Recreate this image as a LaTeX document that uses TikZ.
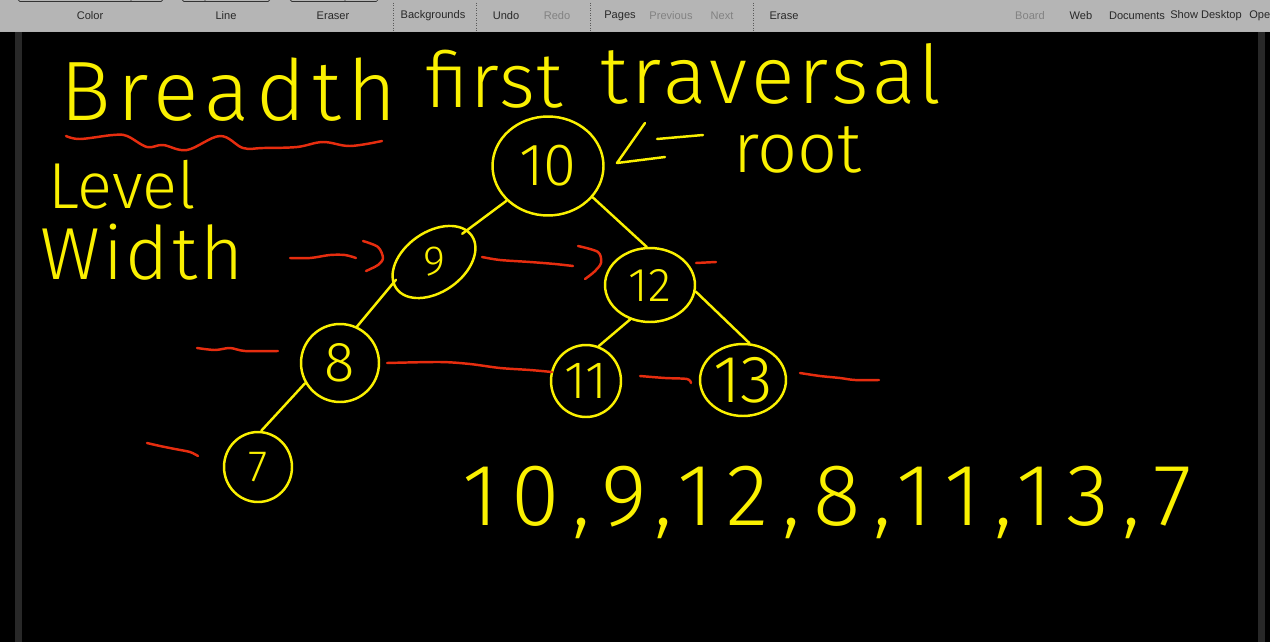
\documentclass[tikz,border=0pt]{standalone}
\usepackage{fontspec}
\usetikzlibrary{shapes.geometric,calc}
\newfontfamily\uifont{Liberation Sans}
\newfontfamily\penfont{Fira Sans Light}
\definecolor{barbg}{RGB}{181,181,181}
\definecolor{uitext}{RGB}{40,40,40}
\definecolor{uidim}{RGB}{130,130,130}
\definecolor{rail}{RGB}{40,40,40}
\definecolor{penyellow}{RGB}{250,240,0}
\definecolor{penred}{RGB}{230,45,15}
% pen text: size in pt, tracking in percent of the em
\newcommand{\hw}[2]{\penfont\addfontfeatures{LetterSpace=#2}\fontsize{#1}{#1}\selectfont}

\begin{document}
\begin{tikzpicture}[x=0.02cm,y=-0.02cm,
  btn/.style={font=\uifont\fontsize{6.3}{7}\selectfont, text=uitext, inner sep=0pt},
  btnoff/.style={btn, text=uidim},
  pen/.style={draw=penyellow, line width=1.4pt, line cap=round, line join=round},
  redpen/.style={draw=penred, line width=1.4pt, line cap=round, line join=round},
  ink/.style={text=penyellow, inner sep=0pt, text depth=0pt, anchor=base west},
  key/.style={ellipse, draw=penyellow, line width=1.4pt, text=penyellow, inner sep=0pt}]
  \useasboundingbox (0,0) rectangle (1270,642);

  % Canvas and toolbar
  \fill[black] (0,0) rectangle (1270,642);
  \fill[rail] (15,32) rectangle (22,642);
  \fill[rail] (1258,32) rectangle (1265,642);
  \fill[barbg] (0,0) rectangle (1270,31);
  \draw[gray!60] (0,31.5) -- (1270,31.5);
  \draw[gray!40!black,rounded corners=1pt] (18,-6) rectangle (163,1.5) (131,-6) -- (131,1.5);
  \draw[gray!40!black,rounded corners=1pt] (182,-6) rectangle (270,1.5) (205,-6) -- (205,1.5);
  \draw[gray!40!black,rounded corners=1pt] (290,-6) rectangle (378,1.5) (345,-6) -- (345,1.5);
  \foreach \sx in {393,476,590,753}
    \draw[gray!70!black,densely dotted] (\sx,3) -- (\sx,31);

  \node[btn] (bColor) at (90,16) {Color};
  \node[btn] (bLine) at (226,16) {Line};
  \node[btn] (bEraser) at (333,16) {Eraser};
  \node[btn] (bBack) at (433,16) {Backgrounds};
  \node[btn] (bUndo) at (506,16) {Undo};
  \node[btnoff] (bRedo) at (557,16) {Redo};
  \node[btn] (bPages) at (620,16) {Pages};
  \node[btnoff] (bPrev) at (671,16) {Previous};
  \node[btnoff] (bNext) at (722,16) {Next};
  \node[btn] (bErase) at (784,16) {Erase};
  \node[btnoff] (bBoard) at (1030,16) {Board};
  \node[btn] (bWeb) at (1081,16) {Web};
  \node[btn] (bDocs) at (1137,16) {Documents};
  \node[btn] (bDesk) at (1206,16) {Show Desktop};
  \node[btn,anchor=west] (bOpen) at (1249,16) {Open};

  % Title and notes
  \node[ink,font={\hw{48}{8}}] (tBreadth) at (60,120) {Breadth};
  \node[ink,font={\hw{44}{2}}] (tFirst) at (425,108) {first};
  \node[ink,font={\hw{46}{5}}] (tTrav) at (600,104) {traversal};
  \draw[redpen] plot[smooth,tension=0.6] coordinates {(66,136) (80,139) (113,135) (127,136) (147,147) (163,145) (187,150) (220,136) (243,148) (263,148) (297,147) (323,142) (350,146) (382,141)};
  \node[ink,font={\hw{37}{0}}] (tLevel) at (48,208) {Level};
  \node[ink,text height=30pt,font={\hw{42}{4}}] (tWidth) at (40,279) {Width};
  \node[ink,font={\hw{40}{0}}] (tRoot) at (733,172) {root};

  % Tree
  \node[key,minimum width=2.22cm,minimum height=1.98cm,font={\hw{34}{0}}] (n10) at (548,166) {10};
  \node[key,draw=none,minimum width=1.68cm,minimum height=1.44cm,font={\hw{24}{0}}] (n9) at (434,262) {9};
  \draw[pen,rotate around={35:(n9.center)}] (n9.center) ellipse (46 and 30);
  \node[key,minimum width=1.80cm,minimum height=1.48cm,font={\hw{27}{0}}] (n12) at (650,285) {12};
  \node[key,minimum width=1.56cm,minimum height=1.56cm,font={\hw{32}{0}}] (n8) at (340,363) {8};
  \node[key,minimum width=1.40cm,minimum height=1.44cm,font={\hw{30}{0}}] (n11) at (586,381) {11};
  \node[key,minimum width=1.72cm,minimum height=1.44cm,font={\hw{38}{0}}] (n13) at (743,380) {13};
  \node[key,minimum width=1.36cm,minimum height=1.40cm,font={\hw{25}{0}}] (n7) at (258,467) {7};

  \draw[pen] (n10.-140) -- (n9.45);
  \draw[pen] (n10.-35) -- (n12.95);
  \draw[pen] (n9.-155) -- (n8.65);
  \draw[pen] (n12.-120) -- (n11.70);
  \draw[pen] (n12.-8) -- (n13.80);
  \draw[pen] (n8.-150) -- (n7.85);

  % root pointer
  \draw[pen] (645,123) -- (617,163) -- (665,157);
  \draw[pen] (657,139) -- (703,135);

  % Level width marks
  \draw[redpen] plot[smooth] coordinates {(290,258) (310,258) (330,255) (345,255) (356,258)};
  \draw[redpen] plot[smooth] coordinates {(363,241) (378,247) (383,258) (378,265) (366,271)};
  \draw[redpen] plot[smooth] coordinates {(482,257) (500,260) (530,262) (555,264) (573,266)};
  \draw[redpen] plot[smooth] coordinates {(578,246) (598,252) (601,263) (594,272) (585,279)};
  \draw[redpen] (696,263) -- (716,262);
  \draw[redpen] plot[smooth] coordinates {(197,348) (215,350) (230,348) (245,351) (278,351)};
  \draw[redpen] plot[smooth] coordinates {(387,363) (440,362) (470,364) (500,368) (530,370) (552,372)};
  \draw[redpen] plot[smooth] coordinates {(640,376) (665,378) (687,379) (691,383)};
  \draw[redpen] plot[smooth] coordinates {(800,373) (820,376) (840,378) (855,380) (879,380)};
  \draw[redpen] plot[smooth] coordinates {(147,443) (160,446) (175,449) (190,452) (198,456)};

  % Visiting order
  \node[ink,font={\hw{50}{15}}] (tOrder) at (462,525) {10,9,12,8,11,13,7};
\end{tikzpicture}
\end{document}
